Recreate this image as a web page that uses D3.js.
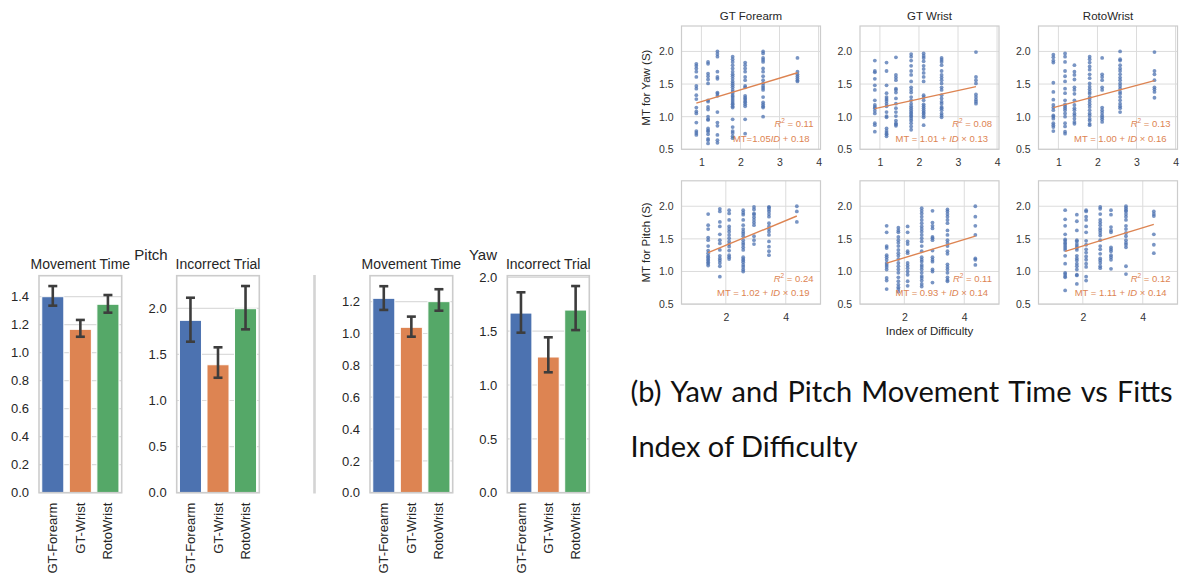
<!DOCTYPE html>
<html>
<head>
<meta charset="utf-8">
<script src="https://cdn.jsdelivr.net/npm/d3@7"></script>
<style>
  body { margin: 0; background: #fff; }
  svg { display: block; }
</style>
</head>
<body>
<svg id="fig" width="1180" height="578"></svg>
<script>
// ---------- Bar chart data (mean with 95% CI) ----------
const devices = ["GT-Forearm", "GT-Wrist", "RotoWrist"];

const pitchMoveTime   = [1.400, 1.167, 1.346];
const pitchMoveTimeLo = [1.336, 1.114, 1.286];
const pitchMoveTimeHi = [1.476, 1.234, 1.412];

const pitchIncorrect   = [1.870, 1.388, 1.996];
const pitchIncorrectLo = [1.638, 1.247, 1.772];
const pitchIncorrectHi = [2.115, 1.577, 2.242];

const yawMoveTime   = [1.221, 1.039, 1.200];
const yawMoveTimeLo = [1.148, 0.980, 1.143];
const yawMoveTimeHi = [1.297, 1.106, 1.278];

const yawIncorrect   = [1.668, 1.260, 1.696];
const yawIncorrectLo = [1.486, 1.118, 1.510];
const yawIncorrectHi = [1.861, 1.443, 1.919];

const ticksPitchMT  = [0, 0.2, 0.4, 0.6, 0.8, 1.0, 1.2, 1.4];
const ticksPitchInc = [0, 0.5, 1.0, 1.5, 2.0];
const ticksYawMT    = [0, 0.2, 0.4, 0.6, 0.8, 1.0, 1.2];
const ticksYawInc   = [0, 0.5, 1.0, 1.5, 2.0];

// ---------- Scatter data: MT per trial, grouped by index of difficulty ----------
const panelTitles = ["GT Forearm", "GT Wrist", "RotoWrist"];
const yawID   = [0.87, 1.17, 1.41, 1.80, 2.12, 2.58, 3.46];
const pitchID = [1.41, 1.80, 2.11, 2.58, 2.94, 3.44, 4.37];

const yawGTForearm = [
  [1.81,1.78,1.74,1.69,1.61,1.47,1.43,1.33,1.27,1.14,1.08,1.05,0.91,0.78,0.75,0.72],
  [1.84,1.81,1.66,1.62,1.57,1.51,1.25,1.23,1.15,1.11,1.00,0.96,0.95,0.82,0.79,0.77,0.73,0.66,0.64,0.59],
  [2.00,1.96,1.92,1.69,1.61,1.58,1.37,1.35,1.32,1.07,0.91,0.86,0.72,0.64,0.60],
  [1.92,1.88,1.84,1.79,1.74,1.69,1.65,1.62,1.58,1.54,1.51,1.48,1.45,1.41,1.38,1.35,1.32,1.30,1.27,1.24,1.21,1.19,1.16,1.14,0.96,0.84,0.78,0.75,0.70,0.67],
  [1.83,1.79,1.74,1.69,1.61,1.56,1.47,1.45,1.32,1.29,1.27,1.24,1.22,1.19,1.16,0.96,0.74],
  [2.00,1.97,1.90,1.87,1.84,1.74,1.69,1.62,1.56,1.51,1.47,1.44,1.41,1.30,1.22,1.19,1.16,1.14,1.00],
  [1.90,1.69,1.65,1.62,1.59,1.56,1.54]
];
const yawGTWrist = [
  [1.86,1.70,1.68,1.58,1.48,1.41,1.25,1.18,1.15,1.13,1.09,1.05,0.90,0.87,0.77],
  [1.83,1.70,1.48,1.36,1.30,1.27,1.24,1.20,1.16,1.07,1.01,0.99,0.82,0.78,0.75,0.73,0.70],
  [1.91,1.64,1.60,1.56,1.43,1.41,1.37,1.28,1.20,1.13,1.07,1.01,0.94,0.90,0.88,0.86],
  [1.96,1.92,1.86,1.78,1.70,1.64,1.54,1.45,1.41,1.37,1.30,1.25,1.20,1.16,1.13,1.10,1.07,1.05,1.02,1.00,0.97,0.94,0.90,0.85,0.80],
  [1.97,1.93,1.90,1.85,1.78,1.73,1.67,1.61,1.54,1.33,1.30,1.25,1.19,1.16,1.13,1.10,1.07,1.05,1.02,0.99,0.87],
  [1.90,1.87,1.84,1.79,1.70,1.64,1.60,1.56,1.51,1.45,1.41,1.33,1.28,1.23,1.20,1.15,1.13,1.10,1.05,1.02,0.99],
  [1.99,1.61,1.56,1.51,1.34,1.30,1.26,1.23,1.20]
];
const yawRotoWrist = [
  [1.95,1.91,1.86,1.83,1.52,1.38,1.26,1.18,1.14,1.10,1.02,1.00,0.97,0.90,0.87,0.84,0.78],
  [1.97,1.92,1.84,1.70,1.62,1.54,1.43,1.36,1.25,1.19,1.16,1.13,1.10,1.05,1.00,0.90,0.85,0.77,0.74],
  [1.79,1.69,1.64,1.57,1.45,1.41,1.35,1.25,1.18,1.13,1.10,1.05,1.02,0.97,0.92,0.89],
  [1.92,1.88,1.83,1.77,1.72,1.65,1.59,1.51,1.46,1.42,1.38,1.35,1.30,1.27,1.23,1.19,1.15,1.10,1.05,1.02,0.97,0.94,0.89,0.87],
  [1.90,1.65,1.61,1.56,1.45,1.41,1.14,1.10,1.06,1.02,0.99,0.96,0.92],
  [2.00,1.88,1.86,1.79,1.74,1.70,1.65,1.60,1.56,1.51,1.47,1.43,1.38,1.35,1.30,1.25,1.20,1.16,1.13,1.07],
  [1.99,1.70,1.65,1.56,1.45,1.42,1.38,1.29]
];
const pitchGTForearm = [
  [1.88,1.71,1.65,1.52,1.48,1.39,1.32,1.28,1.24,1.22,1.19,1.17,1.14,1.12,1.09],
  [1.96,1.92,1.76,1.69,1.57,1.48,1.43,1.33,1.24,1.20,1.17,1.13,1.08,0.92],
  [1.94,1.89,1.79,1.69,1.65,1.61,1.56,1.51,1.46,1.42,1.38,1.32,1.25,1.22,1.19],
  [1.94,1.90,1.87,1.79,1.71,1.65,1.61,1.58,1.54,1.48,1.44,1.41,1.37,1.33,1.22,1.19,1.17,1.14,1.10,1.07,1.03,1.00],
  [1.99,1.95,1.89,1.87,1.83,1.79,1.75,1.71,1.54,1.48,1.42],
  [1.99,1.98,1.95,1.92,1.88,1.84,1.74,1.69,1.65,1.61,1.56,1.46,1.38,1.31,1.25],
  [2.00,1.92,1.76]
];
const pitchGTWrist = [
  [1.70,1.60,1.39,1.36,1.25,1.22,1.18,1.13,1.10,1.07,1.03,0.90,0.86,0.73],
  [1.67,1.63,1.60,1.53,1.48,1.44,1.39,1.33,1.28,1.24,1.19,1.13,1.08,1.03,0.98,0.91,0.85,0.80,0.76,0.73,0.69],
  [1.69,1.60,1.46,1.42,1.31,1.28,1.13,1.09,1.05,1.00,0.95,0.85,0.78],
  [1.97,1.93,1.89,1.84,1.79,1.74,1.69,1.65,1.61,1.56,1.51,1.46,1.39,1.31,1.22,1.18,1.15,1.10,1.07,1.03,0.98,0.93,0.90,0.86,0.81,0.77],
  [1.93,1.75,1.70,1.66,1.53,1.51,1.48,1.32,1.22,1.18,1.15,1.03,1.00,0.83],
  [1.95,1.92,1.88,1.84,1.79,1.74,1.63,1.56,1.48,1.44,1.39,1.31,1.27,1.11,1.07,1.03,0.98,0.91,0.87,0.85],
  [2.00,1.84,1.70,1.56,1.20,1.18,1.10]
];
const pitchRotoWrist = [
  [1.94,1.80,1.70,1.57,1.49,1.47,1.44,1.42,1.39,1.36,1.33,1.24,1.12,0.98,0.96,0.93,0.91,0.71],
  [1.87,1.77,1.63,1.48,1.46,1.42,1.39,1.36,1.33,1.24,1.20,1.17,1.12,1.08,1.03,0.95,0.94,0.81],
  [1.94,1.92,1.84,1.79,1.69,1.60,1.47,1.41,1.34,1.29,1.23,1.18,1.12,1.07,0.92,0.86],
  [1.99,1.96,1.88,1.79,1.75,1.71,1.66,1.63,1.59,1.55,1.48,1.39,1.34,1.27,1.20,1.17,1.13,1.08,1.05],
  [1.94,1.87,1.68,1.63,1.60,1.37,1.34,1.31,1.25,1.22,1.18,1.04],
  [2.00,1.97,1.94,1.92,1.88,1.84,1.79,1.70,1.65,1.59,1.54,1.48,1.44,1.41,1.37,1.08,0.96],
  [1.92,1.88,1.85,1.57,1.41,1.28]
];

// Linear fits: MT = intercept + ID x slope
const yawIntercept   = [1.05, 1.01, 1.00];
const yawSlope       = [0.18, 0.13, 0.16];
const yawR2          = ["0.11", "0.08", "0.13"];
const pitchIntercept = [1.02, 0.93, 1.11];
const pitchSlope     = [0.19, 0.14, 0.14];
const pitchR2        = ["0.24", "0.11", "0.12"];

const yawXTicks   = [1, 2, 3, 4];
const pitchXTicks = [2, 4];
const mtYTicks    = [0.5, 1.0, 1.5, 2.0];

// ---------- Style ----------
const C = { blue: "#4c72b0", orange: "#dd8452", green: "#55a868" };
const barColors = [C.blue, C.orange, C.green];
const textCol = "#262626";
const gridCol = "#dcdcdc";
const frameCol = "#cccccc";
const FONT = "'Liberation Sans', Arial, sans-serif";

const svg = d3.select("#fig");
svg.append("rect").attr("width", 1180).attr("height", 578).attr("fill", "#fff");

// ---------- Bar panels ----------
function barPanel(opt) {
  const { left, top, width, height, vals, lo, hi, ymax, ticks, title } = opt;
  const g = svg.append("g").attr("transform", `translate(${left},${top})`);
  const x = d3.scaleBand().domain(devices).range([0, width]).paddingInner(0).paddingOuter(0);
  const y = d3.scaleLinear().domain([0, ymax]).range([height, 0]);

  // horizontal grid
  g.selectAll("line.grid").data(ticks).join("line")
    .attr("x1", 0).attr("x2", width)
    .attr("y1", d => y(d)).attr("y2", d => y(d))
    .attr("stroke", gridCol).attr("stroke-width", 1.2);

  const bw = x.bandwidth() * 0.8;
  g.selectAll("rect.bar").data(devices).join("rect")
    .attr("x", d => x(d) + (x.bandwidth() - bw) / 2)
    .attr("width", bw)
    .attr("y", (d, i) => y(vals[i]))
    .attr("height", (d, i) => height - y(vals[i]))
    .attr("fill", (d, i) => barColors[i])
    .attr("stroke", "#fff").attr("stroke-width", 1);

  // error bars
  const cx = d => x(d) + x.bandwidth() / 2;
  const eb = g.selectAll("g.eb").data(devices).join("g")
    .attr("stroke", "#3d3d3d").attr("stroke-width", 2.6).attr("stroke-linecap", "butt");
  eb.append("line").attr("x1", cx).attr("x2", cx)
    .attr("y1", (d, i) => y(lo[i])).attr("y2", (d, i) => y(hi[i]));
  eb.append("line").attr("x1", d => cx(d) - 4.5).attr("x2", d => cx(d) + 4.5)
    .attr("y1", (d, i) => y(lo[i])).attr("y2", (d, i) => y(lo[i]));
  eb.append("line").attr("x1", d => cx(d) - 4.5).attr("x2", d => cx(d) + 4.5)
    .attr("y1", (d, i) => y(hi[i])).attr("y2", (d, i) => y(hi[i]));

  // frame
  g.append("rect").attr("width", width).attr("height", height)
    .attr("fill", "none").attr("stroke", frameCol).attr("stroke-width", 1.6);

  // y axis labels
  const yAxis = d3.axisLeft(y).tickValues(ticks).tickFormat(d3.format(".1f")).tickSize(0).tickPadding(10);
  const ya = g.append("g").call(yAxis);
  ya.select(".domain").remove();
  ya.selectAll("text").attr("fill", textCol).style("font", `13px ${FONT}`);

  // x axis rotated labels
  const xAxis = d3.axisBottom(x).tickSize(0).tickPadding(0);
  const xa = g.append("g").attr("transform", `translate(0,${height})`).call(xAxis);
  xa.select(".domain").remove();
  xa.selectAll("text")
    .attr("transform", "translate(0,10) rotate(-90)")
    .attr("text-anchor", "end").attr("dy", "0.35em").attr("y", 0).attr("x", 0)
    .attr("fill", textCol).style("font", `13px ${FONT}`);

  g.append("text").attr("x", width / 2).attr("y", -7).attr("text-anchor", "middle")
    .attr("fill", textCol).style("font", `14px ${FONT}`).text(title);
}

barPanel({ left: 39, top: 275.7, width: 82.7, height: 217, vals: pitchMoveTime, lo: pitchMoveTimeLo, hi: pitchMoveTimeHi, ymax: 1.55, ticks: ticksPitchMT, title: "Movement Time" });
barPanel({ left: 176.7, top: 275.7, width: 82.6, height: 217, vals: pitchIncorrect, lo: pitchIncorrectLo, hi: pitchIncorrectHi, ymax: 2.354, ticks: ticksPitchInc, title: "Incorrect Trial" });
barPanel({ left: 370, top: 275.7, width: 82.7, height: 217, vals: yawMoveTime, lo: yawMoveTimeLo, hi: yawMoveTimeHi, ymax: 1.363, ticks: ticksYawMT, title: "Movement Time" });
barPanel({ left: 507.3, top: 275.7, width: 82, height: 217, vals: yawIncorrect, lo: yawIncorrectLo, hi: yawIncorrectHi, ymax: 2.015, ticks: ticksYawInc, title: "Incorrect Trial" });

svg.append("text").attr("x", 151).attr("y", 260).attr("text-anchor", "middle")
  .attr("fill", textCol).style("font", `15px ${FONT}`).text("Pitch");
svg.append("text").attr("x", 483).attr("y", 260).attr("text-anchor", "middle")
  .attr("fill", textCol).style("font", `15px ${FONT}`).text("Yaw");

// thin separator edge between the two bar figures
svg.append("line").attr("x1", 314.5).attr("x2", 314.5).attr("y1", 275).attr("y2", 493.5)
  .attr("stroke", "#d4d4d4").attr("stroke-width", 2.6);

// ---------- Scatter grid ----------
const sW = 139, sH = 123.3;
const colLeft = [681.5, 860, 1038.5];
const rowTop = [26, 180.8];

function scatterPanel(opt) {
  const { left, top, ids, cols, xdom, xticks, a, b, r2, eqCompact, title } = opt;
  const g = svg.append("g").attr("transform", `translate(${left},${top})`);
  const x = d3.scaleLinear().domain(xdom).range([0, sW]);
  const y = d3.scaleLinear().domain([0.5, 2.39]).range([sH, 0]);

  g.selectAll("line.gx").data(xticks).join("line")
    .attr("x1", d => x(d)).attr("x2", d => x(d)).attr("y1", 0).attr("y2", sH)
    .attr("stroke", gridCol).attr("stroke-width", 1);
  g.selectAll("line.gy").data(mtYTicks).join("line")
    .attr("x1", 0).attr("x2", sW).attr("y1", d => y(d)).attr("y2", d => y(d))
    .attr("stroke", gridCol).attr("stroke-width", 1);

  const pts = [];
  cols.forEach((col, i) => col.forEach(v => pts.push([ids[i], v])));
  g.selectAll("circle").data(pts).join("circle")
    .attr("cx", d => x(d[0])).attr("cy", d => y(d[1])).attr("r", 1.9)
    .attr("fill", C.blue).attr("fill-opacity", 0.75);

  const x0 = d3.min(ids), x1 = d3.max(ids);
  g.append("line")
    .attr("x1", x(x0)).attr("y1", y(a + b * x0))
    .attr("x2", x(x1)).attr("y2", y(a + b * x1))
    .attr("stroke", C.orange).attr("stroke-width", 1.4);

  g.append("rect").attr("width", sW).attr("height", sH)
    .attr("fill", "none").attr("stroke", frameCol).attr("stroke-width", 1.2);

  const ya = g.append("g").call(d3.axisLeft(y).tickValues(mtYTicks).tickFormat(d3.format(".1f")).tickSize(0).tickPadding(8));
  ya.select(".domain").remove();
  ya.selectAll("text").attr("fill", "#333").style("font", `10.5px ${FONT}`);

  const xa = g.append("g").attr("transform", `translate(0,${sH})`)
    .call(d3.axisBottom(x).tickValues(xticks).tickFormat(d3.format("d")).tickSize(0).tickPadding(9));
  xa.select(".domain").remove();
  xa.selectAll("text").attr("fill", "#333").style("font", `10.5px ${FONT}`);

  // fit annotations
  const rt = g.append("text").attr("x", sW - 7).attr("y", 101).attr("text-anchor", "end")
    .attr("fill", C.orange).style("font", `9.5px ${FONT}`);
  rt.append("tspan").attr("font-style", "italic").text("R");
  rt.append("tspan").attr("dy", -4).style("font-size", "6.5px").text("2");
  rt.append("tspan").attr("dy", 4).text(` = ${r2}`);

  const et = g.append("text").attr("x", sW - 11).attr("y", 115.5).attr("text-anchor", "end")
    .attr("fill", C.orange).style("font", `9.5px ${FONT}`);
  if (eqCompact) {
    et.append("tspan").text(`MT=${a.toFixed(2)}`);
    et.append("tspan").attr("font-style", "italic").text("ID");
    et.append("tspan").text(` + ${b.toFixed(2)}`);
  } else {
    et.append("tspan").text(`MT = ${a.toFixed(2)} + `);
    et.append("tspan").attr("font-style", "italic").text("ID");
    et.append("tspan").text(` \u00d7 ${b.toFixed(2)}`);
  }

  if (title) {
    g.append("text").attr("x", sW / 2).attr("y", -6).attr("text-anchor", "middle")
      .attr("fill", textCol).style("font", `11.5px ${FONT}`).text(title);
  }
}

const yawData = [yawGTForearm, yawGTWrist, yawRotoWrist];
const pitchData = [pitchGTForearm, pitchGTWrist, pitchRotoWrist];
for (let k = 0; k < 3; k++) {
  scatterPanel({ left: colLeft[k], top: rowTop[0], ids: yawID, cols: yawData[k], xdom: [0.49, 4.05], xticks: yawXTicks,
    a: yawIntercept[k], b: yawSlope[k], r2: yawR2[k], eqCompact: k === 0, title: panelTitles[k] });
  scatterPanel({ left: colLeft[k], top: rowTop[1], ids: pitchID, cols: pitchData[k], xdom: [0.52, 5.16], xticks: pitchXTicks,
    a: pitchIntercept[k], b: pitchSlope[k], r2: pitchR2[k], eqCompact: false, title: null });
}

svg.append("text").attr("transform", `translate(650,${rowTop[0] + sH / 2}) rotate(-90)`)
  .attr("text-anchor", "middle").attr("fill", textCol).style("font", `11.5px ${FONT}`).text("MT for Yaw (S)");
svg.append("text").attr("transform", `translate(650,${rowTop[1] + sH / 2}) rotate(-90)`)
  .attr("text-anchor", "middle").attr("fill", textCol).style("font", `11.5px ${FONT}`).text("MT for Pitch (S)");
svg.append("text").attr("x", colLeft[1] + sW / 2).attr("y", 335).attr("text-anchor", "middle")
  .attr("fill", textCol).style("font", `11.5px ${FONT}`).text("Index of Difficulty");

// ---------- Caption (first line justified, continues past the page edge) ----------
const capWords = ["(b)", "Yaw", "and", "Pitch", "Movement", "Time", "vs", "Fitts"];
const capStart = 630.5, lastWordStart = 1117;
const cap = svg.append("g").attr("fill", "#111").style("font", "29px Lato, sans-serif");
const wordEls = cap.selectAll("text.w").data(capWords).join("text").attr("class", "w")
  .attr("y", 402).text(d => d);
const widths = wordEls.nodes().map(n => n.getComputedTextLength());
const used = d3.sum(widths.slice(0, capWords.length - 1));
const gap = (lastWordStart - capStart - used) / (capWords.length - 1);
let cursor = capStart;
wordEls.attr("x", (d, i) => { const px = cursor; cursor += widths[i] + gap; return px; });
cap.append("text").attr("x", capStart).attr("y", 457).text("Index of Difficulty");
</script>
</body>
</html>
